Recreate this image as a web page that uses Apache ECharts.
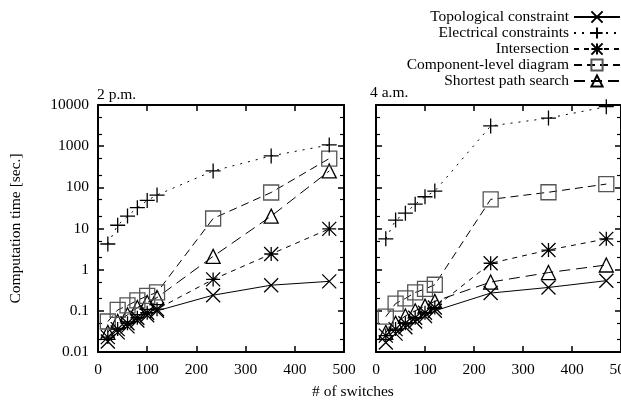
<!DOCTYPE html>
<html>
<head>
<meta charset="utf-8">
<script src="https://cdn.jsdelivr.net/npm/echarts@6/dist/echarts.min.js"></script>
<style>html,body{margin:0;padding:0;background:#fff}#c{width:621px;height:401px}</style>
</head>
<body>
<div id="c"></div>
<script>
// ---- data ----
const switches = [20, 40, 60, 80, 100, 120, 234, 352, 470];
const seriesNames = ['Topological constraint', 'Electrical constraints', 'Intersection', 'Component-level diagram', 'Shortest path search'];
const panelTitles = ['2 p.m.', '4 a.m.'];
// 2 p.m.
const pmTopological  = [0.018, 0.03, 0.042, 0.058, 0.078, 0.1, 0.24, 0.42, 0.52];
const pmElectrical   = [4.2, 12, 20, 32, 48, 65, 250, 580, 1070];
const pmIntersection = [0.023, 0.036, 0.05, 0.068, 0.09, 0.11, 0.58, 2.4, 9.8];
const pmComponent    = [0.055, 0.105, 0.135, 0.18, 0.23, 0.28, 17.5, 75, 500];
const pmShortest     = [0.03, 0.055, 0.08, 0.12, 0.16, 0.21, 2.1, 20, 250];
// 4 a.m.
const amTopological  = [0.017, 0.028, 0.04, 0.055, 0.075, 0.1, 0.27, 0.37, 0.54];
const amElectrical   = [5.6, 16, 23.5, 39, 59, 81, 3100, 4800, 9100];
const amIntersection = [0.025, 0.036, 0.05, 0.068, 0.09, 0.12, 1.43, 3.0, 5.6];
const amComponent    = [0.072, 0.15, 0.2, 0.28, 0.34, 0.43, 51, 76, 120];
const amShortest     = [0.03, 0.05, 0.075, 0.1, 0.13, 0.17, 0.5, 0.85, 1.3];
const xTicks = [0, 100, 200, 300, 400, 500];
const yTicks = [0.01, 0.1, 1, 10, 100, 1000, 10000];

// ---- styling ----
const FONT = 'Liberation Serif';
const FS = 15.5;
const symbols = [
  'path://M0,0L10,10M10,0L0,10',
  'path://M5,0L5,10M0,5L10,5',
  'path://M0,0L10,10M10,0L0,10M5,0L5,10M0,5L10,5',
  'rect',
  'triangle'
];
const symSizes = [14, 15, 14, 15, 14];
const dashes = ['solid', [2, 6], [5, 5], [8, 5], [11, 6]];
const borderCols = ['#000', '#000', '#000', '#555', '#000'];

// minor ticks (2 and 5 in each decade), in log10 space
const minorVals = [];
for (let d = -2; d < 4; d++) { minorVals.push(d + Math.log10(2)); minorVals.push(d + Math.log10(5)); }

const grids = [
  { left: 98, top: 105, width: 246, height: 247, outerBoundsMode: 'none', containLabel: false },
  { left: 376, top: 105, width: 245, height: 247, outerBoundsMode: 'none', containLabel: false }
];

const axLine = { show: true, onZero: false, lineStyle: { color: '#000', width: 2 } };
const majTick = { inside: true, length: 6, lineStyle: { color: '#000', width: 1.5 } };

const xAxes = [], yAxes = [];
grids.forEach((g, gi) => {
  xAxes.push({
    type: 'value', gridIndex: gi, position: 'bottom', min: 0, max: 500, interval: 100,
    axisLine: axLine, axisTick: majTick,
    axisLabel: { color: '#000', fontFamily: FONT, fontSize: FS, margin: 10, hideOverlap: false, showMaxLabel: true },
    splitLine: { show: false }
  });
  xAxes.push({
    type: 'value', gridIndex: gi, position: 'top', min: 0, max: 500, interval: 100,
    axisLine: axLine, axisTick: majTick,
    axisLabel: { show: false },
    splitLine: { show: false }
  });
  yAxes.push({
    type: 'log', logBase: 10, gridIndex: gi, position: 'left', min: 0.01, max: 10000,
    axisLine: axLine, axisTick: majTick,
    axisLabel: { show: gi === 0, color: '#000', fontFamily: FONT, fontSize: FS, margin: 9,
      formatter: v => String(v) },
    splitLine: { show: false },
    name: gi === 0 ? 'Computation time [sec.]' : '',
    nameLocation: 'middle', nameGap: 74, nameRotate: 90,
    nameTextStyle: { color: '#000', fontFamily: FONT, fontSize: FS }
  });
  yAxes.push({
    type: 'log', logBase: 10, gridIndex: gi, position: 'right', min: 0.01, max: 10000,
    axisLine: axLine, axisTick: majTick,
    axisLabel: { show: false },
    splitLine: { show: false }
  });
  ['left', 'right'].forEach(pos => {
    yAxes.push({
      type: 'value', gridIndex: gi, position: pos, min: -2, max: 4,
      axisLine: { show: false, onZero: false },
      axisTick: { show: true, inside: true, length: 4, customValues: minorVals, lineStyle: { color: '#000', width: 1.2 } },
      axisLabel: { show: false },
      splitLine: { show: false }
    });
  });
});

const panelData = [
  [pmTopological, pmElectrical, pmIntersection, pmComponent, pmShortest],
  [amTopological, amElectrical, amIntersection, amComponent, amShortest]
];

const series = [];
panelData.forEach((arrs, gi) => {
  arrs.forEach((vals, si) => {
    series.push({
      type: 'line', name: seriesNames[si],
      xAxisIndex: gi * 2, yAxisIndex: gi * 4,
      data: switches.map((x, i) => [x, vals[i]]),
      symbol: symbols[si], symbolSize: symSizes[si],
      lineStyle: { color: '#000', width: 1, type: dashes[si] },
      itemStyle: { color: 'rgba(0,0,0,0)', borderColor: borderCols[si], borderWidth: 1.3 },
      emphasis: { disabled: true },
      animation: false,
      z: 5 - si
    });
  });
});

const chart = echarts.init(document.getElementById('c'), null, { renderer: 'canvas' });
chart.setOption({
  backgroundColor: '#fff',
  animation: false,
  title: [
    { text: panelTitles[0], left: 97, top: 87, padding: 0, textStyle: { color: '#000', fontFamily: FONT, fontSize: FS, fontWeight: 'normal' } },
    { text: panelTitles[1], left: 370, top: 85, padding: 0, textStyle: { color: '#000', fontFamily: FONT, fontSize: FS, fontWeight: 'normal' } }
  ],
  legend: {
    data: seriesNames, orient: 'vertical', right: 0, top: 9, align: 'right',
    itemWidth: 46, itemHeight: 14, itemGap: 0, padding: 0,
    textStyle: { color: '#000', fontFamily: FONT, fontSize: FS, lineHeight: 15.5 },
    selectedMode: false
  },
  graphic: [
    { type: 'text', left: 312, top: 384, style: { text: '# of switches', fill: '#000', font: FS + 'px "' + FONT + '"' } }
  ],
  grid: grids,
  xAxis: xAxes,
  yAxis: yAxes,
  series: series
});
</script>
</body>
</html>
